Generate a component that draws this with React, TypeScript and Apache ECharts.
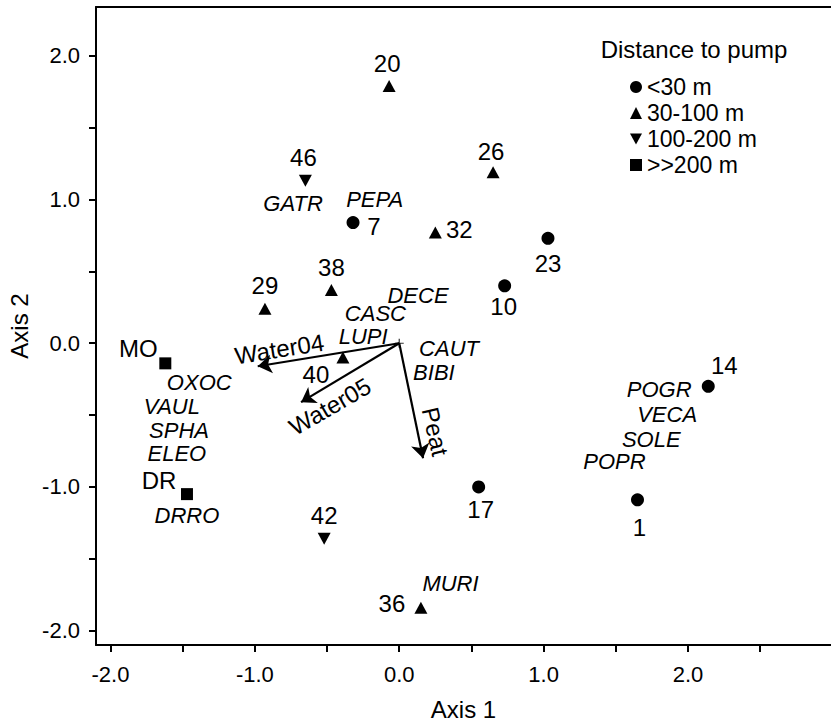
import React, { useEffect, useRef } from "react";
import * as echarts from "echarts";

const FONT = '"Liberation Sans", Arial, Helvetica, sans-serif';

// Legend groups (distance to pump)
const groupNames = ["<30 m", "30-100 m", "100-200 m", ">>200 m"];

// Site scores [name, axis1, axis2]
const sitesNear: [string, number, number][] = [
  ["7", -0.32, 0.84],
  ["23", 1.03, 0.73],
  ["10", 0.73, 0.4],
  ["14", 2.14, -0.3],
  ["17", 0.55, -1.0],
  ["1", 1.65, -1.09],
];
const sitesMid: [string, number, number][] = [
  ["20", -0.07, 1.79],
  ["26", 0.65, 1.19],
  ["32", 0.25, 0.77],
  ["29", -0.93, 0.24],
  ["38", -0.47, 0.37],
  ["40", -0.39, -0.1],
  ["36", 0.15, -1.84],
];
const sitesFar: [string, number, number][] = [
  ["46", -0.65, 1.13],
  ["42", -0.52, -1.36],
];
const sitesVeryFar: [string, number, number][] = [
  ["MO", -1.62, -0.14],
  ["DR", -1.47, -1.05],
];

// Species scores [name, axis1, axis2]
const species: [string, number, number][] = [
  ["GATR", -0.735, 0.97],
  ["PEPA", -0.17, 1.0],
  ["DECE", 0.13, 0.33],
  ["CASC", -0.165, 0.205],
  ["LUPI", -0.25, 0.045],
  ["CAUT", 0.345, -0.04],
  ["BIBI", 0.24, -0.205],
  ["OXOC", -1.385, -0.275],
  ["VAUL", -1.575, -0.44],
  ["SPHA", -1.525, -0.605],
  ["ELEO", -1.54, -0.765],
  ["DRRO", -1.47, -1.2],
  ["MURI", 0.355, -1.675],
  ["POGR", 1.8, -0.325],
  ["VECA", 1.855, -0.495],
  ["SOLE", 1.745, -0.67],
  ["POPR", 1.49, -0.82],
];

// Environmental vectors [name, axis1, axis2]
const vectors: [string, number, number][] = [
  ["Water04", -0.98, -0.16],
  ["Water05", -0.68, -0.41],
  ["Peat", 0.165, -0.8],
];
// Vector label anchor points [name, axis1, axis2]
const vectorLabelPoints: [string, number, number][] = [
  ["Water04", -0.83, -0.04],
  ["Water05", -0.48, -0.44],
  ["Peat", 0.25, -0.615],
];

const xTicks = [-2, -1.5, -1, -0.5, 0, 0.5, 1, 1.5, 2, 2.5];
const xTickLabels = [-2, -1, 0, 1, 2];
const yTicks = [-2, -1.5, -1, -0.5, 0, 0.5, 1, 1.5, 2];
const yTickLabels = [-2, -1, 0, 1, 2];

// ---- styling (not data) ----
const labelOffset: Record<string, [number, number]> = {
  "7": [21, 4],
  "23": [0, 25],
  "10": [-1, 21],
  "14": [16, -21],
  "17": [2, 23],
  "1": [2, 28],
  "20": [-2, -23],
  "26": [-2, -21],
  "32": [24, -3],
  "29": [0, -23],
  "38": [0, -23],
  "40": [-27, 17],
  "36": [-29, -4],
  "46": [-2, -23],
  "42": [0, -23],
  MO: [-27, -15],
  DR: [-28, -14],
};
const vectorLabelRotate: Record<string, number> = {
  Water04: 9,
  Water05: 30,
  Peat: -77,
};

const X_MIN = -2.1;
const X_MAX = 2.99;
const Y_MIN = -2.1;
const Y_MAX = 2.34;

function siteSeries(name: string, pts: [string, number, number][], symbol: string, size: any) {
  return {
    type: "scatter",
    name,
    xAxisIndex: 0,
    yAxisIndex: 0,
    symbol,
    symbolSize: size,
    itemStyle: { color: "#000", opacity: 1 },
    silent: true,
    data: pts.map((p) => ({
      name: p[0],
      value: [p[1], p[2]],
      label: { offset: labelOffset[p[0]] || [0, 0] },
    })),
    label: {
      show: true,
      position: "inside",
      formatter: (d: any) => d.name,
      color: "#000",
      opacity: 1,
      fontSize: 24,
      fontFamily: FONT,
    },
    z: 5,
  };
}

export default function App() {
  const ref = useRef<HTMLDivElement>(null);
  useEffect(() => {
    if (!ref.current) return;
    const chart = echarts.init(ref.current, undefined, { renderer: "svg" });
    const axisLineStyle = { color: "#000", width: 2 };
    const option: any = {
      animation: false,
      backgroundColor: "#fff",
      grid: {
        left: 96,
        top: 7,
        right: 0,
        bottom: 78,
        containLabel: false,
        outerBoundsMode: "none",
      },
      xAxis: [
        {
          type: "value",
          min: X_MIN,
          max: X_MAX,
          position: "bottom",
          axisLine: { show: true, onZero: false, lineStyle: axisLineStyle },
          axisTick: {
            show: true,
            inside: false,
            length: 7,
            lineStyle: { color: "#000", width: 2 },
            customValues: xTicks,
          },
          axisLabel: {
            show: true,
            customValues: xTickLabels,
            formatter: (v: number) => v.toFixed(1),
            color: "#000",
            fontSize: 22,
            fontFamily: FONT,
            margin: 18,
          },
          splitLine: { show: false },
          name: "Axis 1",
          nameLocation: "middle",
          nameGap: 52,
          nameTextStyle: { color: "#000", fontSize: 24, lineHeight: 24, fontFamily: FONT },
        },
        {
          type: "value",
          min: X_MIN,
          max: X_MAX,
          position: "top",
          axisLine: { show: true, onZero: false, lineStyle: axisLineStyle },
          axisTick: { show: false },
          axisLabel: { show: false },
          splitLine: { show: false },
        },
      ],
      yAxis: [
        {
          type: "value",
          min: Y_MIN,
          max: Y_MAX,
          axisLine: { show: true, onZero: false, lineStyle: axisLineStyle },
          axisTick: {
            show: true,
            inside: false,
            length: 7,
            lineStyle: { color: "#000", width: 2 },
            customValues: yTicks,
          },
          axisLabel: {
            show: true,
            customValues: yTickLabels,
            formatter: (v: number) => v.toFixed(1),
            color: "#000",
            fontSize: 22,
            fontFamily: FONT,
            margin: 16,
          },
          splitLine: { show: false },
          name: "Axis 2",
          nameLocation: "middle",
          nameGap: 65,
          nameTextStyle: { color: "#000", fontSize: 24, lineHeight: 24, fontFamily: FONT },
        },
      ],
      legend: {
        data: groupNames,
        orient: "vertical",
        left: 625,
        top: 69,
        itemWidth: 12,
        itemHeight: 12,
        itemGap: 0,
        selectedMode: false,
        textStyle: { color: "#000", fontSize: 23, lineHeight: 26, fontFamily: FONT },
      },
      graphic: [
        {
          type: "text",
          x: 694,
          y: 49,
          style: {
            text: "Distance to pump",
            fill: "#000",
            fontSize: 24,
            fontFamily: FONT,
            align: "center",
            verticalAlign: "middle",
          },
        },
      ],
      series: [
        {
          type: "lines",
          coordinateSystem: "cartesian2d",
          xAxisIndex: 0,
          yAxisIndex: 0,
          symbol: ["none", "arrow"],
          symbolSize: [0, 14],
          silent: true,
          lineStyle: { color: "#000", width: 2.2, opacity: 1, curveness: 0 },
          data: vectors.map((v) => ({ name: v[0], coords: [[0, 0], [v[1], v[2]]] })),
          z: 3,
        },
        {
          type: "scatter",
          xAxisIndex: 0,
          yAxisIndex: 0,
          symbol: "path://M0,5L10,5M5,0L5,10",
          symbolSize: 9,
          silent: true,
          itemStyle: { color: "none", borderColor: "#000", borderWidth: 1.2 },
          data: [[0, 0]],
          z: 3,
        },
        siteSeries(groupNames[0], sitesNear, "circle", 13),
        siteSeries(groupNames[1], sitesMid, "triangle", [13, 12]),
        siteSeries(groupNames[2], sitesFar, "path://M0,0L10,0L5,9Z", [13, 12]),
        siteSeries(groupNames[3], sitesVeryFar, "rect", 12),
        {
          type: "scatter",
          xAxisIndex: 0,
          yAxisIndex: 0,
          symbolSize: 0,
          silent: true,
          itemStyle: { color: "#000", opacity: 1 },
          data: species.map((s) => ({ name: s[0], value: [s[1], s[2]] })),
          label: {
            show: true,
            position: "inside",
            formatter: (d: any) => d.name,
            color: "#000",
            opacity: 1,
            textBorderWidth: 0,
            textBorderColor: "transparent",
            fontSize: 22,
            lineHeight: 19,
            fontStyle: "italic",
            fontFamily: FONT,
          },
          z: 4,
        },
        {
          type: "scatter",
          xAxisIndex: 0,
          yAxisIndex: 0,
          symbolSize: 0,
          silent: true,
          itemStyle: { color: "#000", opacity: 1 },
          data: vectorLabelPoints.map((s) => ({
            name: s[0],
            value: [s[1], s[2]],
            label: { rotate: vectorLabelRotate[s[0]] || 0 },
          })),
          label: {
            show: true,
            position: "inside",
            formatter: (d: any) => d.name,
            color: "#000",
            opacity: 1,
            textBorderWidth: 0,
            textBorderColor: "transparent",
            fontSize: 24,
            fontFamily: FONT,
          },
          z: 4,
        },
      ],
    };
    chart.setOption(option);
    return () => {
      chart.dispose();
    };
  }, []);
  return (
    <div
      ref={ref}
      style={{ position: "fixed", left: 0, top: 0, width: 831, height: 723, background: "#fff" }}
    />
  );
}
